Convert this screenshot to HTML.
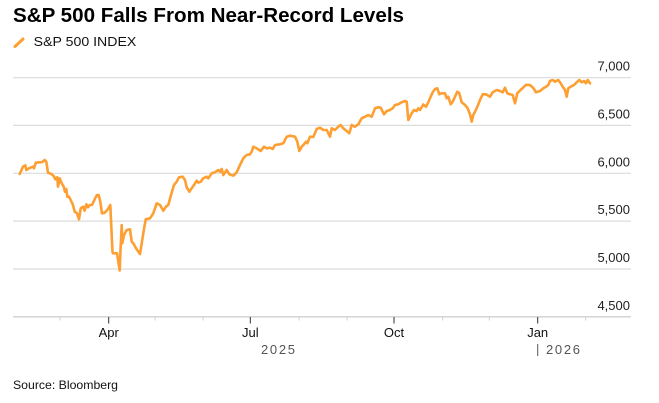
<!DOCTYPE html>
<html>
<head>
<meta charset="utf-8">
<style>
html,body{margin:0;padding:0;background:#fff;}
svg{display:block;}
text{font-family:"Liberation Sans",sans-serif;}
</style>
</head>
<body>
<svg width="659" height="403" viewBox="0 0 659 403" xmlns="http://www.w3.org/2000/svg">
<rect width="659" height="403" fill="#fff"/>
<text x="13" y="22" font-size="20" font-weight="bold" fill="#000" textLength="391" lengthAdjust="spacingAndGlyphs">S&amp;P 500 Falls From Near-Record Levels</text>
<line x1="15" y1="46.5" x2="23" y2="39" stroke="#fd9f32" stroke-width="3" stroke-linecap="round"/>
<text x="33.7" y="46" font-size="13" fill="#111" textLength="102.6" lengthAdjust="spacingAndGlyphs">S&amp;P 500 INDEX</text>

<g stroke="#dcdcdc" stroke-width="1.2">
<line x1="13" y1="77.7" x2="631" y2="77.7"/>
<line x1="13" y1="125.4" x2="631" y2="125.4"/>
<line x1="13" y1="173.3" x2="631" y2="173.3"/>
<line x1="13" y1="221.1" x2="631" y2="221.1"/>
<line x1="13" y1="269" x2="631" y2="269"/>
</g>
<line x1="13" y1="316.8" x2="631" y2="316.8" stroke="#d0d0d0" stroke-width="1.4"/>

<g font-size="13" fill="#222" text-anchor="end">
<text x="630" y="70.7">7,000</text>
<text x="630" y="118.4">6,500</text>
<text x="630" y="166.4">6,000</text>
<text x="630" y="214.1">5,500</text>
<text x="630" y="262">5,000</text>
<text x="630" y="309.8">4,500</text>
</g>

<g stroke="#cfcfcf" stroke-width="1">
<line x1="60" y1="317" x2="60" y2="320.5"/>
<line x1="155" y1="317" x2="155" y2="320.5"/>
<line x1="203" y1="317" x2="203" y2="320.5"/>
<line x1="299" y1="317" x2="299" y2="320.5"/>
<line x1="347" y1="317" x2="347" y2="320.5"/>
<line x1="442.7" y1="317" x2="442.7" y2="320.5"/>
<line x1="489.3" y1="317" x2="489.3" y2="320.5"/>
<line x1="585.7" y1="317" x2="585.7" y2="320.5"/>
</g>
<g stroke="#333" stroke-width="1">
<line x1="108.7" y1="317" x2="108.7" y2="323.5"/>
<line x1="250.3" y1="317" x2="250.3" y2="323.5"/>
<line x1="394" y1="317" x2="394" y2="323.5"/>
<line x1="537.7" y1="317" x2="537.7" y2="323.5"/>
</g>
<g font-size="13" fill="#111" text-anchor="middle">
<text x="108.7" y="337">Apr</text>
<text x="250.3" y="337">Jul</text>
<text x="394" y="337">Oct</text>
<text x="537.7" y="337">Jan</text>
</g>
<text x="261" y="354" font-size="13" fill="#555" textLength="34" lengthAdjust="spacing">2025</text>
<line x1="537.7" y1="344" x2="537.7" y2="356" stroke="#555" stroke-width="1"/>
<text x="546" y="354" font-size="13" fill="#555" textLength="34" lengthAdjust="spacing">2026</text>

<text x="13" y="389" font-size="12" fill="#111" textLength="105" lengthAdjust="spacingAndGlyphs">Source: Bloomberg</text>

<polyline fill="none" stroke="#fd9f32" stroke-width="2.6" stroke-linejoin="round" stroke-linecap="round" points="
19.7,174 23,166.7 25.3,165.3 26.3,170 29,168.3 31.3,167.3 33,166.7 34,168.3 35.7,162.7 39.7,162.3 42.3,162 44.7,160 46.3,161.7 48,172.7 51.3,174 53.7,176 55.3,179.3 57.3,177.3 58,186.7 59.7,178.3 61.7,183.3 63.7,186.7 65,191.7 66.3,189 67.3,196.7 69,196.7 70.7,200 73,205 74.7,211.7 77,213.3 79,219.3 80.7,208.3 83,206.7 84.7,210.7 86.3,204.3 88,207.3 89.7,205 92,205 94.7,199.3 97,195 98.7,195 100.3,201.7 102,213.3 104.7,212.7 107.3,210 110.3,205 112.5,252 113,253.3 117,253.3 119.7,270.5 120.5,250 121.7,225 122.3,243.3 124,235 126.7,230 130,229.3 131.7,241.7 133.3,243.3 136,248.3 140,254 143.3,233.3 145.7,219.3 150,218.3 153.3,213.3 156.7,203.3 160,205 163.3,210.7 166,206.7 168.3,205 171,195 174,185 176.7,181.7 179,177.3 182.7,176.7 185,180 186.7,187.3 189.3,191.7 191.7,188.3 194,185 196.7,180.7 198.3,182.7 200.7,181.7 203.3,178.3 206.7,176.7 208.3,178.3 211.7,173.3 215,172.3 218.3,170 220,171.7 221.7,169 223.3,175 226.7,170 229.3,174.3 233.3,175.7 236.7,172.3 240,165 243.3,158.3 246.7,155 250,154.3 251.7,151.7 253.3,146.7 256.7,148.3 260.7,151 264,146.7 266.7,148.3 270,147.7 272.7,149 275,145 280,144.3 283.3,143.3 286.7,136.7 290,135.7 295,136.7 297.3,141.7 299.3,151 301.7,146.7 304,144.3 306,141.7 307.3,143.3 310,136.7 313.3,137 316.7,129 320,127.7 323.3,130 326.7,130 330,136.7 331.7,128.3 335,130 338.3,126.7 340.7,125 343.3,128.3 346.7,131 349.3,133.3 351.7,125 355,126.7 358.3,124.3 361.7,118.3 365,116.7 368.3,115 371.7,116.7 375,108.3 378.3,107.3 380.7,107.7 384,114.3 386.7,111 390,110 392.7,108.3 395,105 398.3,104.3 401.7,102.3 405,101 406.7,101.7 408.3,120 411.7,113.3 414,110 416.7,111 418.3,108.3 420,110 423.3,104.5 426,106.7 428.3,102.3 430,98.3 432.7,92.3 435,89 437.3,88.3 439.3,94.3 441.7,93.3 445,93.3 446.7,98.3 448.3,96.7 450.7,104.3 452.7,101.7 455,96.7 457.3,91.7 459.3,93.3 461.7,102.3 465,105 467.7,108.3 470,114.3 471.7,121.7 473.3,115 476.7,108.3 480,100 482.7,94.3 486,94.3 490,96.7 492.7,92.3 496.7,90 500,91 502.7,92.3 505,87.7 507.3,93.3 510,94.3 512.7,95 515,103.3 517.3,93.3 520,90.5 523.3,87.5 526,84.8 530,85 533.3,88 536,92.3 540,91 543.3,88.3 546,86.7 548.3,85 550,81 552.7,80 555,81.7 558.3,80 560.7,83.3 562.7,86.7 565,90 566.7,96.7 568.3,88.3 570.7,86.7 574,85 576.7,82.3 579.3,80 581.7,82.3 584,81 586,83.3 587.7,80 590,83.3"/>
</svg>
</body>
</html>
